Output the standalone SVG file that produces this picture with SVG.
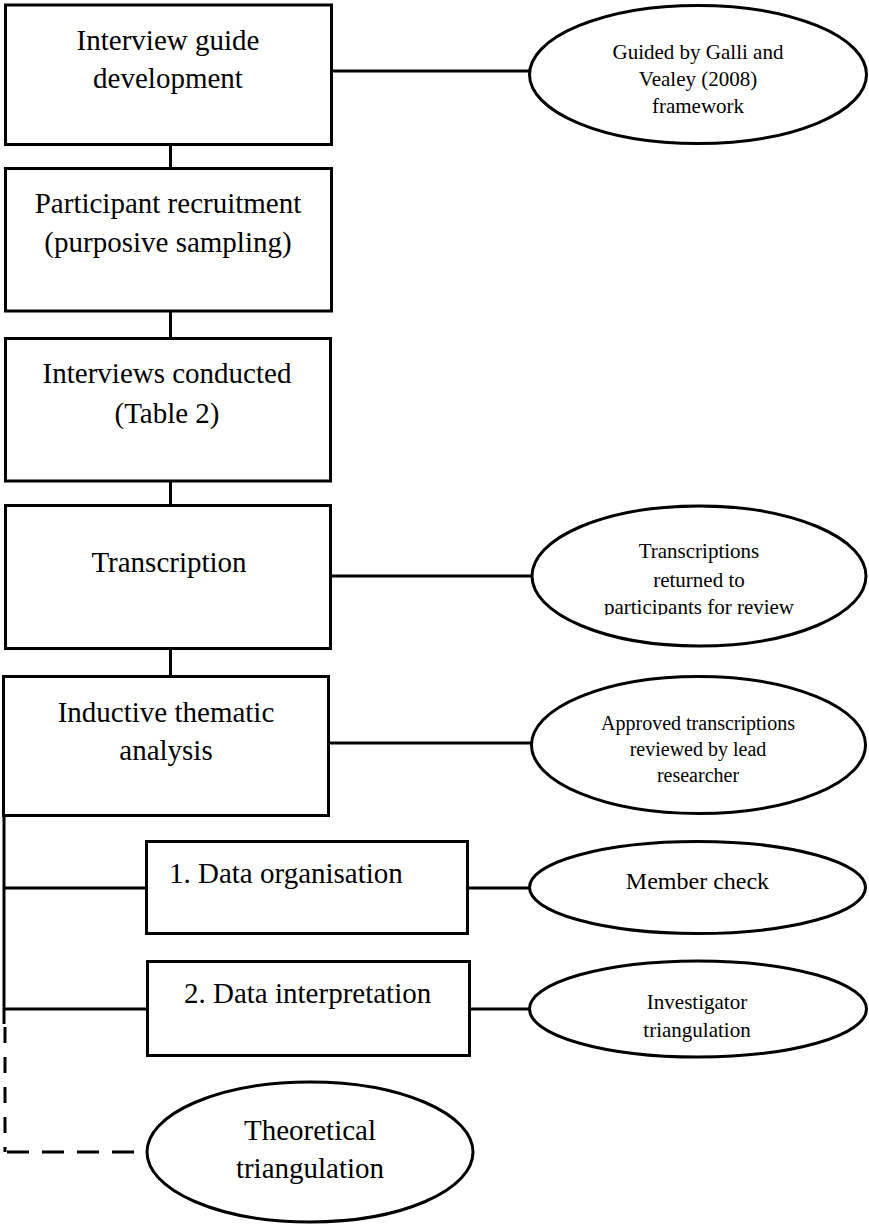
<svg xmlns="http://www.w3.org/2000/svg" width="869" height="1231" viewBox="0 0 869 1231">
<style>
.box{fill:#fff;stroke:#000;stroke-width:3}
.ell{fill:#fff;stroke:#000;stroke-width:3}
.ln{stroke:#000;stroke-width:3;fill:none}
.t{font-family:"Liberation Serif","Times New Roman",serif;fill:#000;text-anchor:middle}
.b{font-size:29px}
.s{font-size:21px}
</style>
<defs>
<clipPath id="clipT"><rect x="520" y="500" width="349" height="115"/></clipPath>
</defs>
<g id="connectors">
<line class="ln" x1="170.5" y1="144" x2="170.5" y2="169"/>
<line class="ln" x1="170.5" y1="311" x2="170.5" y2="339"/>
<line class="ln" x1="170.5" y1="481" x2="170.5" y2="506"/>
<line class="ln" x1="170.5" y1="648" x2="170.5" y2="677"/>
<line class="ln" x1="331" y1="71" x2="530" y2="71"/>
<line class="ln" x1="330" y1="576" x2="532" y2="576"/>
<line class="ln" x1="328" y1="743" x2="532" y2="743"/>
<line class="ln" x1="4" y1="815" x2="4" y2="1024"/>
<line class="ln" x1="4" y1="888" x2="147" y2="888"/>
<line class="ln" x1="4" y1="1009" x2="148" y2="1009"/>
<line class="ln" x1="468" y1="888" x2="530" y2="888"/>
<line class="ln" x1="470" y1="1009" x2="530" y2="1009"/>
<line class="ln" x1="5" y1="1027" x2="5" y2="1152" stroke-dasharray="16 14"/>
<line class="ln" x1="7" y1="1152" x2="147" y2="1152" stroke-dasharray="22 13"/>
</g>
<g id="n1"><rect class="box" x="5.5" y="5" width="326" height="139.5"/>
<text class="t b" x="168" y="50">Interview guide</text><text class="t b" x="168" y="88">development</text></g>
<g id="n2"><rect class="box" x="5.5" y="168.5" width="326" height="142.5"/>
<text class="t b" x="168" y="213">Participant recruitment</text><text class="t b" x="168" y="252">(purposive sampling)</text></g>
<g id="n3"><rect class="box" x="5.5" y="338.5" width="325" height="142.5"/>
<text class="t b" x="167" y="383">Interviews conducted</text><text class="t b" x="167" y="423">(Table 2)</text></g>
<g id="n4"><rect class="box" x="5.5" y="505.5" width="325" height="143"/>
<text class="t b" x="169" y="572">Transcription</text></g>
<g id="n5"><rect class="box" x="3.5" y="676.5" width="325" height="139"/>
<text class="t b" x="166" y="722">Inductive thematic</text><text class="t b" x="166" y="760">analysis</text></g>
<g id="n6"><rect class="box" x="146.5" y="841.5" width="321" height="92"/>
<text class="t b" x="169" y="883" style="text-anchor:start">1. Data organisation</text></g>
<g id="n7"><rect class="box" x="147.5" y="961.5" width="322" height="94"/>
<text class="t b" x="184" y="1003" style="text-anchor:start">2. Data interpretation</text></g>
<g id="e1"><ellipse class="ell" cx="698" cy="74.5" rx="168.5" ry="69"/>
<text class="t s" x="698" y="59">Guided by Galli and</text><text class="t s" x="698" y="86">Vealey (2008)</text><text class="t s" x="698" y="113">framework</text></g>
<g id="e2"><ellipse class="ell" cx="699" cy="576" rx="167" ry="70"/>
<g clip-path="url(#clipT)"><text class="t s" x="699" y="558">Transcriptions</text><text class="t s" x="699" y="587">returned to</text><text class="t s" x="699" y="614">participants for review</text></g></g>
<g id="e3"><ellipse class="ell" cx="698.5" cy="745" rx="167" ry="68.5"/>
<text class="t" style="font-size:20px" x="698" y="730">Approved transcriptions</text><text class="t" style="font-size:20px" x="698" y="756">reviewed by lead</text><text class="t" style="font-size:20px" x="698" y="782">researcher</text></g>
<g id="e4"><ellipse class="ell" cx="697.5" cy="887.5" rx="168" ry="46"/>
<text class="t" style="font-size:24px" x="697.5" y="889">Member check</text></g>
<g id="e5"><ellipse class="ell" cx="698" cy="1009" rx="168.5" ry="48"/>
<text class="t s" x="697" y="1009">Investigator</text><text class="t s" x="697" y="1037">triangulation</text></g>
<g id="e6"><ellipse class="ell" cx="310" cy="1152" rx="163" ry="70"/>
<text class="t b" x="310" y="1140">Theoretical</text><text class="t b" x="310" y="1178">triangulation</text></g>
</svg>
